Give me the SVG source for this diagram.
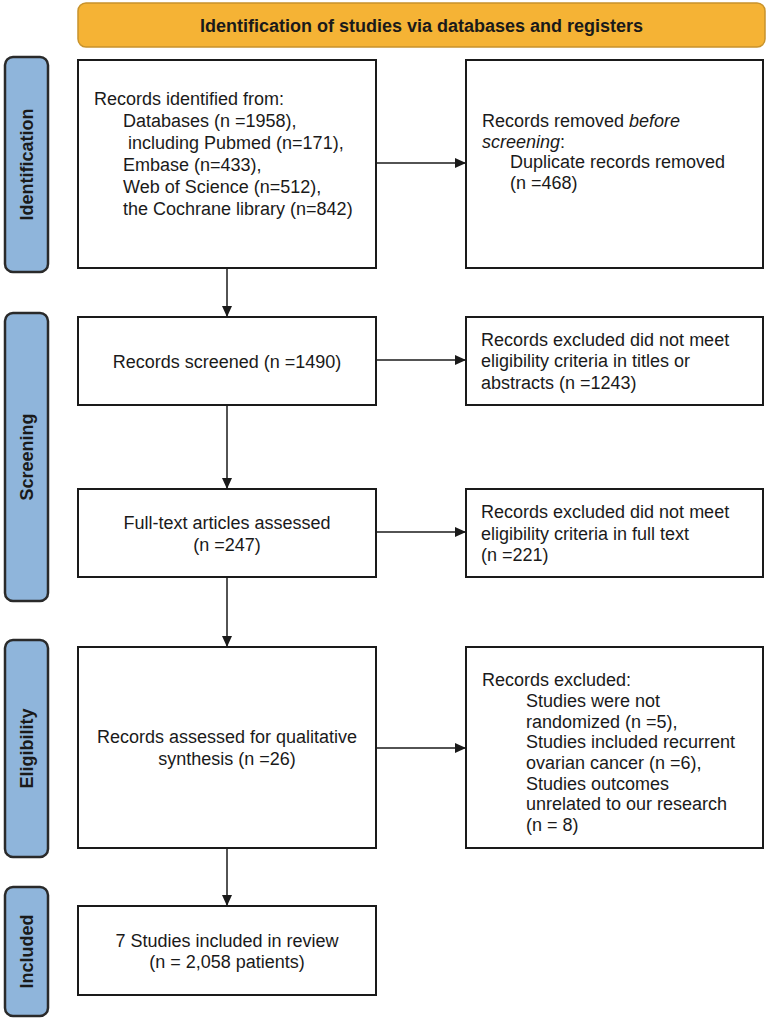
<svg xmlns="http://www.w3.org/2000/svg" width="767" height="1021" viewBox="0 0 767 1021">
<style>
text{font-family:"Liberation Sans",Arial,sans-serif;font-size:18px;fill:#1a1a1a}
.box{fill:#fff;stroke:#1a1a1a;stroke-width:2}
.lab{fill:#8fb5db;stroke:#2a2a2a;stroke-width:2.5}
.labt{font-weight:bold;text-anchor:middle}
.c{text-anchor:middle}
.conn line{stroke:#1a1a1a;stroke-width:1.5;marker-end:url(#ah)}
</style>
<defs>
<marker id="ah" markerWidth="12" markerHeight="12" refX="11" refY="6" orient="auto" markerUnits="userSpaceOnUse">
<path d="M0,1 L11,6 L0,11 Z" fill="#1a1a1a"/>
</marker>
</defs>
<rect width="767" height="1021" fill="#fff"/>
<g id="banner">
<rect x="78" y="3" width="687" height="44" rx="8" fill="#f5b335" stroke="#c8932c" stroke-width="1.5"/>
<text x="421.5" y="31.5" class="c" font-weight="bold">Identification of studies via databases and registers</text>
</g>
<g id="label-identification">
<rect class="lab" x="5" y="57" width="43" height="215" rx="8"/>
<text class="labt" transform="translate(33,164.5) rotate(-90)">Identification</text>
</g>
<g id="label-screening">
<rect class="lab" x="5" y="313" width="43" height="288" rx="8"/>
<text class="labt" transform="translate(33,457) rotate(-90)">Screening</text>
</g>
<g id="label-eligibility">
<rect class="lab" x="5" y="640" width="43" height="217" rx="8"/>
<text class="labt" transform="translate(33,748.5) rotate(-90)">Eligibility</text>
</g>
<g id="label-included">
<rect class="lab" x="5" y="887" width="43" height="129" rx="8"/>
<text class="labt" transform="translate(33,951.5) rotate(-90)">Included</text>
</g>
<g id="n-identified">
<rect class="box" x="78" y="60" width="298" height="208"/>
<text x="94" y="105">Records identified from:</text>
<text x="123" y="127">Databases (n =1958),</text>
<text x="123" y="149" xml:space="preserve"> including Pubmed (n=171),</text>
<text x="123" y="171">Embase (n=433),</text>
<text x="123" y="193">Web of Science (n=512),</text>
<text x="123" y="215">the Cochrane library (n=842)</text>
</g>
<g id="n-removed">
<rect class="box" x="466" y="60" width="297" height="208"/>
<text x="482" y="127">Records removed <tspan font-style="italic">before</tspan></text>
<text x="482" y="148"><tspan font-style="italic">screening</tspan>:</text>
<text x="510" y="168">Duplicate records removed</text>
<text x="510" y="189">(n =468)</text>
</g>
<g id="n-screened">
<rect class="box" x="78" y="317" width="298" height="88"/>
<text x="227" y="368" class="c">Records screened (n =1490)</text>
</g>
<g id="n-excluded1">
<rect class="box" x="466" y="317" width="297" height="88"/>
<text x="481" y="346">Records excluded did not meet</text>
<text x="481" y="367">eligibility criteria in titles or</text>
<text x="481" y="389">abstracts (n =1243)</text>
</g>
<g id="n-fulltext">
<rect class="box" x="78" y="489" width="298" height="88"/>
<text x="227" y="529" class="c">Full-text articles assessed</text>
<text x="227" y="551" class="c">(n =247)</text>
</g>
<g id="n-excluded2">
<rect class="box" x="466" y="489" width="297" height="88"/>
<text x="481" y="518">Records excluded did not meet</text>
<text x="481" y="540">eligibility criteria in full text</text>
<text x="481" y="561">(n =221)</text>
</g>
<g id="n-assessed">
<rect class="box" x="78" y="647" width="298" height="201"/>
<text x="227" y="743" class="c">Records assessed for qualitative</text>
<text x="227" y="765" class="c">synthesis (n =26)</text>
</g>
<g id="n-excluded3">
<rect class="box" x="466" y="647" width="297" height="201"/>
<text x="482" y="686">Records excluded:</text>
<text x="526" y="707">Studies were not</text>
<text x="526" y="728">randomized (n =5),</text>
<text x="526" y="748">Studies included recurrent</text>
<text x="526" y="769">ovarian cancer (n =6),</text>
<text x="526" y="790">Studies outcomes</text>
<text x="526" y="810">unrelated to our research</text>
<text x="526" y="831">(n = 8)</text>
</g>
<g id="n-included">
<rect class="box" x="78" y="906" width="298" height="89"/>
<text x="227" y="947" class="c">7 Studies included in review</text>
<text x="227" y="968" class="c">(n = 2,058 patients)</text>
</g>
<g id="connectors" class="conn">
<line x1="227" y1="268" x2="227" y2="317"/>
<line x1="227" y1="405" x2="227" y2="489"/>
<line x1="227" y1="577" x2="227" y2="647"/>
<line x1="227" y1="848" x2="227" y2="906"/>
<line x1="376" y1="163" x2="466" y2="163"/>
<line x1="376" y1="360" x2="466" y2="360"/>
<line x1="376" y1="532" x2="466" y2="532"/>
<line x1="376" y1="748" x2="466" y2="748"/>
</g>
</svg>
